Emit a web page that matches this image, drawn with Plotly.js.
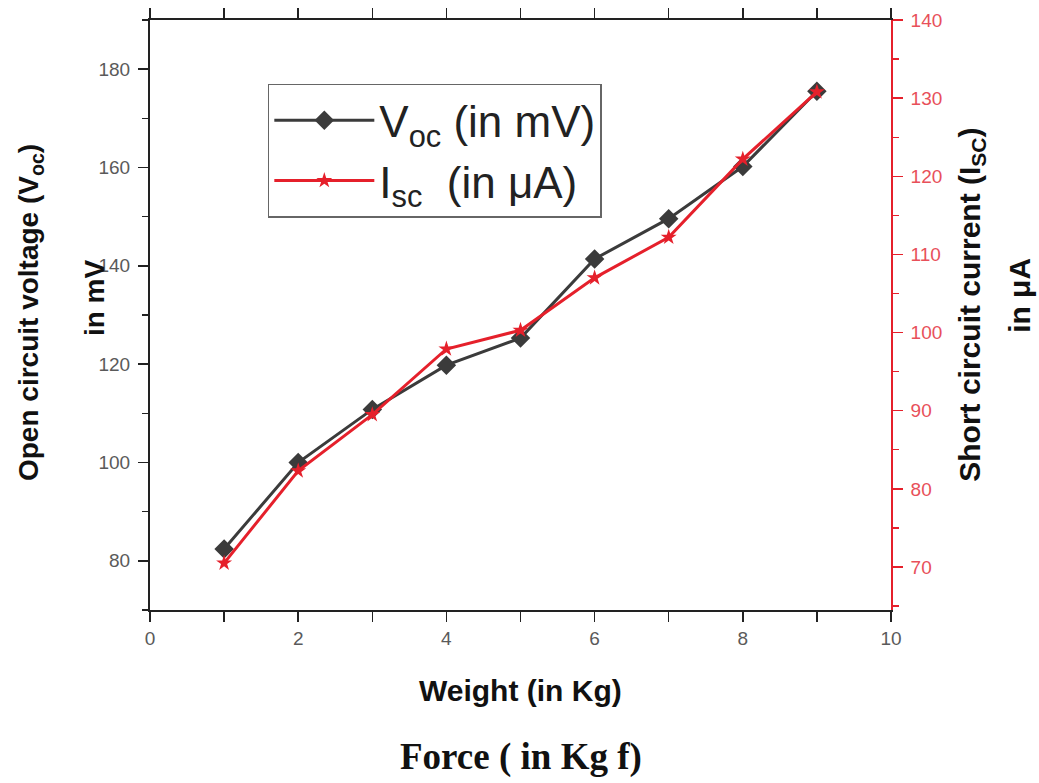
<!DOCTYPE html>
<html>
<head>
<meta charset="utf-8">
<script src="https://cdn.plot.ly/plotly-3.0.1.min.js"></script>
<style>html,body{margin:0;padding:0;background:#fff;}#chart{width:1039px;height:783px;}</style>
</head>
<body>
<div id="chart"></div>
<script>
// Data
var weightKg = [1, 2, 3, 4, 5, 6, 7, 8, 9];
var vocMilliVolt = [82.4, 100.0, 110.8, 119.8, 125.3, 141.4, 149.6, 160.2, 175.5];
var iscMicroAmp = [70.5, 82.3, 89.5, 97.9, 100.3, 107.0, 112.2, 122.2, 130.8];
var xTickVals = [0, 2, 4, 6, 8, 10];
var yLeftTickVals = [80, 100, 120, 140, 160, 180];
var yRightTickVals = [70, 80, 90, 100, 110, 120, 130, 140];

var BLACK = '#3b3b3b';
var RED = '#e5202b';

var traces = [
  {
    x: weightKg, y: vocMilliVolt, name: 'V<sub>oc</sub> (in mV)',
    type: 'scatter', mode: 'lines+markers', yaxis: 'y', xaxis: 'x',
    line: {color: BLACK, width: 3},
    marker: {symbol: 'diamond', size: 15, color: BLACK}
  },
  {
    x: weightKg, y: iscMicroAmp, name: 'I<sub>sc</sub>\u00A0\u00A0(in \u03bcA)',
    type: 'scatter', mode: 'lines+markers', yaxis: 'y2', xaxis: 'x',
    line: {color: RED, width: 3},
    marker: {symbol: 'star', size: 12, color: RED}
  }
];

var tickFont = {family: 'Liberation Sans, Arial, sans-serif', size: 19, color: '#5a5a5a'};
var titleFont = {family: 'Liberation Sans, Arial, sans-serif', size: 28, color: '#111'};
var titleFontR = {family: 'Liberation Sans, Arial, sans-serif', size: 30, color: '#111'};

var layout = {
  width: 1039, height: 783,
  margin: {l: 150, r: 148, t: 20, b: 173, pad: 0},
  paper_bgcolor: '#fff', plot_bgcolor: '#fff',
  showlegend: true,
  legend: {
    x: 0.159, y: 0.892, xanchor: 'left', yanchor: 'top',
    bgcolor: '#fff', bordercolor: '#666', borderwidth: 1.5,
    font: {family: 'Liberation Sans, Arial, sans-serif', size: 44, color: '#222'},
    itemwidth: 100, tracegroupgap: 0
  },
  xaxis: {
    range: [0, 10], tickvals: xTickVals, ticktext: xTickVals.map(String),
    showgrid: false, zeroline: false,
    showline: true, mirror: 'allticks', linecolor: '#222', linewidth: 2,
    ticks: 'outside', ticklen: 10, tickwidth: 1.8, tickcolor: '#222',
    minor: {dtick: 1, ticks: 'outside', ticklen: 6, tickwidth: 1.5, tickcolor: '#222', showgrid: false},
    tickfont: tickFont, anchor: 'y'
  },
  yaxis: {
    range: [70, 190], tickvals: yLeftTickVals, ticktext: yLeftTickVals.map(String),
    showgrid: false, zeroline: false,
    showline: true, linecolor: '#222', linewidth: 2,
    ticks: 'outside', ticklen: 10, tickwidth: 1.8, tickcolor: '#222',
    minor: {dtick: 10, tick0: 70, ticks: 'outside', ticklen: 6, tickwidth: 1.5, tickcolor: '#222', showgrid: false},
    tickfont: tickFont, ticklabelstandoff: 4
  },
  yaxis2: {
    overlaying: 'y', side: 'right', anchor: 'x',
    range: [64.5, 140], tickvals: yRightTickVals, ticktext: yRightTickVals.map(String),
    showgrid: false, zeroline: false,
    showline: true, linecolor: RED, linewidth: 1.8,
    ticks: 'outside', ticklen: 10, tickwidth: 1.5, tickcolor: RED,
    minor: {dtick: 5, tick0: 65, ticks: 'outside', ticklen: 6, tickwidth: 1.2, tickcolor: RED, showgrid: false},
    tickfont: {family: 'Liberation Sans, Arial, sans-serif', size: 19, color: '#e8505a'},
    ticklabelstandoff: 4
  },
  annotations: [
    {text: '<b>Open circuit voltage (V<sub>oc</sub>)</b>', xref: 'paper', yref: 'paper',
     x: -0.162, y: 0.505, xanchor: 'center', yanchor: 'middle', textangle: -90, showarrow: false, font: titleFont},
    {text: '<b>in mV</b>', xref: 'paper', yref: 'paper',
     x: -0.074, y: 0.529, xanchor: 'center', yanchor: 'middle', textangle: -90, showarrow: false, font: titleFont},
    {text: '<b>Short circuit current (I<sub>SC</sub>)</b>', xref: 'paper', yref: 'paper',
     x: 1.109, y: 0.517, xanchor: 'center', yanchor: 'middle', textangle: -90, showarrow: false, font: titleFontR},
    {text: '<b>in \u03bcA</b>', xref: 'paper', yref: 'paper',
     x: 1.174, y: 0.534, xanchor: 'center', yanchor: 'middle', textangle: -90, showarrow: false, font: titleFontR},
    {text: '<b>Weight (in Kg)</b>', xref: 'paper', yref: 'paper',
     x: 0.5, y: -0.1356, xanchor: 'center', yanchor: 'middle', showarrow: false,
     font: {family: 'Liberation Sans, Arial, sans-serif', size: 30, color: '#111'}},
    {text: '<b>Force ( in Kg f)</b>', xref: 'paper', yref: 'paper',
     x: 0.5, y: -0.249, xanchor: 'center', yanchor: 'middle', showarrow: false,
     font: {family: 'Liberation Serif, DejaVu Serif, serif', size: 37, color: '#111'}}
  ]
};

Plotly.newPlot('chart', traces, layout, {displayModeBar: false, staticPlot: true});
</script>
</body>
</html>
